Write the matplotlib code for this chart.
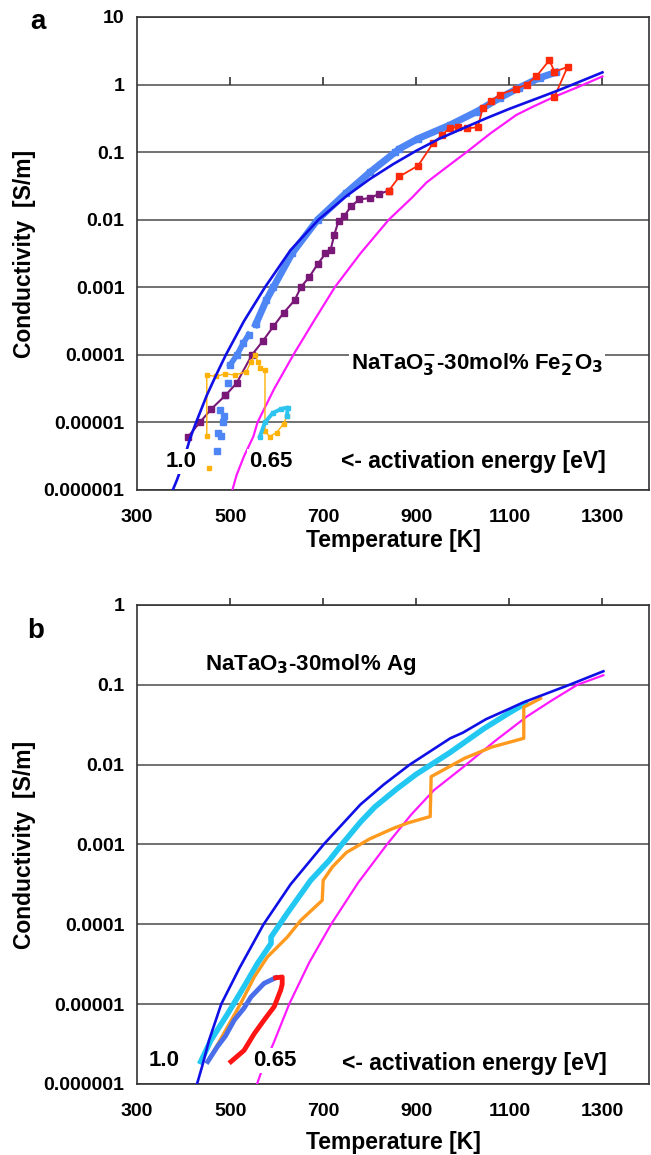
import matplotlib
matplotlib.use("Agg")
import matplotlib.pyplot as plt
import numpy as np

plt.rcParams["font.family"] = ["Liberation Sans", "DejaVu Sans"]
plt.rcParams["font.weight"] = "bold"
plt.rcParams["mathtext.default"] = "bf"

# ---- panel a: NaTaO3-30mol% Fe2O3 (log10 conductivity vs T [K]) ----
a_ea10_T = [377, 386, 395, 405, 414, 427, 450, 470, 491, 530, 575, 630, 690, 750, 800, 850, 900, 950, 1000, 1050, 1100, 1150, 1200, 1236, 1300]
a_ea10_log = [-6.0, -5.85, -5.68, -5.45, -5.24, -5.0, -4.6, -4.3, -4.0, -3.5, -3.0, -2.45, -2.0, -1.65, -1.4, -1.18, -0.98, -0.8, -0.65, -0.5, -0.36, -0.23, -0.1, 0.0, 0.18]
a_ea065_T = [505, 514, 530, 550, 559, 595, 636, 680, 725, 780, 841, 890, 922, 960, 1008, 1060, 1115, 1150, 1197, 1250, 1300]
a_ea065_log = [-6.0, -5.78, -5.5, -5.21, -5.0, -4.5, -4.0, -3.5, -3.0, -2.5, -2.0, -1.68, -1.45, -1.25, -1.0, -0.72, -0.45, -0.33, -0.18, -0.03, 0.12]

a_lblue_T = [1200, 1165, 1120, 1079, 1030, 972, 904, 864, 855, 800, 750, 688, 633, 593, 578, 555]
a_lblue_log = [0.18, 0.1, -0.05, -0.2, -0.4, -0.6, -0.8, -0.95, -1.0, -1.3, -1.6, -2.0, -2.5, -3.0, -3.19, -3.55]
a_lblue2_T = [540, 528, 515, 500]
a_lblue2_log = [-3.7, -3.83, -4.0, -4.15]
a_lblue_pts_T = [496, 490, 488, 478, 485, 474, 480, 471]
a_lblue_pts_log = [-4.42, -4.6, -4.9, -4.81, -5.0, -5.16, -5.2, -5.43]

a_purple_T = [410, 435, 460, 490, 514, 547, 570, 593, 615, 639, 652, 670, 688, 705, 716, 724, 733, 745, 760, 778, 800, 820, 841]
a_purple_log = [-5.21, -5.0, -4.8, -4.6, -4.42, -4.0, -3.8, -3.58, -3.38, -3.19, -3.0, -2.85, -2.66, -2.5, -2.45, -2.22, -2.02, -1.95, -1.8, -1.7, -1.68, -1.62, -1.57]

a_red_T = [841, 864, 904, 936, 955, 972, 990, 1010, 1032, 1043, 1060, 1079, 1115, 1137, 1158, 1186, 1197, 1225, 1197]
a_red_log = [-1.57, -1.36, -1.2, -0.87, -0.75, -0.64, -0.63, -0.65, -0.63, -0.35, -0.25, -0.15, -0.06, 0.0, 0.12, 0.36, 0.19, 0.26, -0.18]

a_gold_T = [450, 450, 470, 490, 510, 535, 545, 553, 560, 565, 575, 575, 585, 600, 615, 622]
a_gold_log = [-5.2, -4.3, -4.32, -4.28, -4.3, -4.25, -4.1, -4.0, -4.1, -4.2, -4.22, -5.13, -5.21, -5.15, -5.02, -4.91]
a_gold_dot_T = [455]
a_gold_dot_log = [-5.68]
a_cyan_T = [564, 575, 592, 610, 624, 622]
a_cyan_log = [-5.21, -5.0, -4.86, -4.8, -4.78, -4.9]

# ---- panel b: NaTaO3-30mol% Ag ----
b_ea10_T = [429, 440, 455, 481, 520, 572, 630, 701, 780, 830, 886, 973, 1000, 1050, 1100, 1130, 1229, 1302]
b_ea10_log = [-6.0, -5.78, -5.45, -5.0, -4.55, -4.0, -3.5, -3.0, -2.5, -2.25, -2.0, -1.67, -1.6, -1.43, -1.3, -1.22, -1.0, -0.83]
b_ea065_T = [558, 567, 594, 627, 670, 717, 775, 837, 890, 938, 1001, 1070, 1137, 1190, 1246, 1302]
b_ea065_log = [-6.0, -5.85, -5.48, -5.0, -4.48, -4.0, -3.48, -3.0, -2.62, -2.32, -2.03, -1.7, -1.4, -1.2, -1.0, -0.88]

b_cyan_T = [437, 459, 495, 530, 559, 588, 588, 623, 673, 713, 740, 780, 811, 859, 900, 972, 1045, 1100, 1135]
b_cyan_log = [-5.72, -5.45, -5.12, -4.78, -4.49, -4.24, -4.16, -3.86, -3.45, -3.2, -3.0, -2.72, -2.53, -2.3, -2.12, -1.85, -1.55, -1.35, -1.23]
b_orange_T = [452, 466, 495, 523, 552, 580, 623, 652, 698, 700, 720, 750, 800, 850, 882, 930, 932, 1004, 1062, 1131, 1131, 1167]
b_orange_log = [-5.72, -5.58, -5.28, -4.99, -4.66, -4.41, -4.16, -3.95, -3.7, -3.45, -3.28, -3.1, -2.93, -2.8, -2.73, -2.65, -2.15, -1.92, -1.78, -1.67, -1.28, -1.17]
b_royal_T = [452, 473, 490, 509, 530, 545, 573, 598]
b_royal_log = [-5.72, -5.53, -5.4, -5.2, -5.05, -4.91, -4.74, -4.67]
b_red_T = [598, 612, 612, 609, 595, 573, 552, 530, 502]
b_red_log = [-4.67, -4.66, -4.75, -4.82, -5.03, -5.2, -5.37, -5.58, -5.72]

x_ticks = [300, 500, 700, 900, 1100, 1300]
top_ticks = [500, 700, 900, 1100, 1300]
a_yticks = [1e-6, 1e-5, 1e-4, 1e-3, 1e-2, 1e-1, 1, 10]
a_ylabels = ["0.000001", "0.00001", "0.0001", "0.001", "0.01", "0.1", "1", "10"]
b_yticks = a_yticks[:-1]
b_ylabels = a_ylabels[:-1]

GRID = "#4a4a4a"
FRAME = "#333333"
DBLUE = "#1010e6"
MAGENTA = "#ff1aff"


def sig(v):
    return 10 ** np.asarray(v, dtype=float)


def setup(ax, ylim, yticks, ylabels, tick_base, label_y):
    ax.set_yscale("log")
    ax.set_xlim(300, 1400)
    ax.set_ylim(*ylim)
    ax.set_xticks(x_ticks)
    ax.set_yticks(yticks, ylabels)
    ax.minorticks_off()
    ax.tick_params(axis="both", length=0, labelsize=14)
    ax.tick_params(axis="x", pad=14)
    ax.tick_params(axis="y", pad=9)
    ax.yaxis.grid(True, color=GRID, lw=1.1)
    ax.set_axisbelow(True)
    for s in ax.spines.values():
        s.set_color(FRAME)
        s.set_linewidth(1.2)
    ax.set_xlabel("Temperature [K]", fontsize=16.5, fontweight="bold")
    ax.set_ylabel("Conductivity  [S/m]", fontsize=16.5, fontweight="bold")
    ax.yaxis.set_label_coords(-0.197, 0.5)
    ax.xaxis.set_label_coords(0.5, label_y)
    # short upward tick marks (Excel secondary axis)
    ax.vlines(top_ticks, tick_base, tick_base + 0.015, transform=ax.get_xaxis_transform(),
              color=FRAME, lw=1.2, clip_on=False, zorder=2)


def box_text(ax, x, y, s, size=16):
    ax.text(x, y, s, ha="center", va="center", fontsize=size, fontweight="bold", zorder=10,
            bbox=dict(facecolor="white", edgecolor="none", pad=1.5))


fig = plt.figure(figsize=(6.51, 11.55), dpi=100)

# ---------- panel a ----------
ax1 = fig.add_axes([0.2104, 0.5758, 0.7865, 0.4095])
setup(ax1, (1e-6, 10), a_yticks, a_ylabels, 6 / 7, -0.083)

ax1.plot(a_ea065_T, sig(a_ea065_log), color=MAGENTA, lw=1.6, zorder=3)
ax1.plot(a_lblue_T, sig(a_lblue_log), color="#4f86f6", lw=5, marker="s", ms=4.5, zorder=4)
ax1.plot(a_lblue2_T, sig(a_lblue2_log), color="#4f86f6", lw=4, marker="s", ms=4.5, zorder=4)
ax1.plot(a_lblue_pts_T, sig(a_lblue_pts_log), color="#4f86f6", ls="", marker="s", ms=4.5, zorder=4)
ax1.plot(a_purple_T, sig(a_purple_log), color="#7a1878", lw=1.5, marker="s", ms=3.8, zorder=5)
ax1.plot(a_red_T, sig(a_red_log), color="#ff2a0a", lw=1.3, marker="s", ms=3.8, zorder=5)
ax1.plot(a_gold_T, sig(a_gold_log), color="#ffb20a", lw=1.0, marker="s", ms=3.5, zorder=5)
ax1.plot(a_gold_dot_T, sig(a_gold_dot_log), color="#ffb20a", ls="", marker="s", ms=2.5, zorder=5)
ax1.plot(a_cyan_T, sig(a_cyan_log), color="#2ec4f0", lw=2.8, marker="s", ms=3.2, zorder=5)
ax1.plot(a_ea10_T, sig(a_ea10_log), color=DBLUE, lw=1.9, zorder=6)

box_text(ax1, 1030, 10 ** -4.13, r"NaTaO$_3^{-}$-30mol% Fe$_2^{-}$O$_3$", size=16)
box_text(ax1, 1023, 10 ** -5.58, "<- activation energy [eV]", size=16.5)
box_text(ax1, 395, 10 ** -5.58, "1.0", size=16)
box_text(ax1, 587, 10 ** -5.58, "0.65", size=16)
fig.text(0.058, 0.992, "a", fontsize=20, fontweight="bold", ha="center", va="top")

# ---------- panel b ----------
ax2 = fig.add_axes([0.2104, 0.0615, 0.7865, 0.4147])
setup(ax2, (1e-6, 1), b_yticks, b_ylabels, 1.0, -0.098)

ax2.plot(b_ea065_T, sig(b_ea065_log), color=MAGENTA, lw=1.6, zorder=3)
ax2.plot(b_cyan_T, sig(b_cyan_log), color="#22c8f2", lw=4, zorder=4)
ax2.plot(b_orange_T, sig(b_orange_log), color="#ff9a1e", lw=2.4, zorder=5)
ax2.plot(b_royal_T, sig(b_royal_log), color="#4a6eea", lw=3.5, zorder=5)
ax2.plot(b_red_T, sig(b_red_log), color="#ff1414", lw=3.5, zorder=5)
ax2.plot(b_ea10_T, sig(b_ea10_log), color=DBLUE, lw=1.9, zorder=6)

ax2.text(673, 10 ** -0.75, r"NaTaO$_3$-30mol% Ag", ha="center", va="center", fontsize=16, fontweight="bold", zorder=10)
box_text(ax2, 1025, 10 ** -5.74, "<- activation energy [eV]", size=16.5)
box_text(ax2, 358, 10 ** -5.70, "1.0", size=16)
box_text(ax2, 596, 10 ** -5.70, "0.65", size=16)
fig.text(0.055, 0.465, "b", fontsize=20, fontweight="bold", ha="center", va="top")

fig.savefig("out.png", dpi=100)
